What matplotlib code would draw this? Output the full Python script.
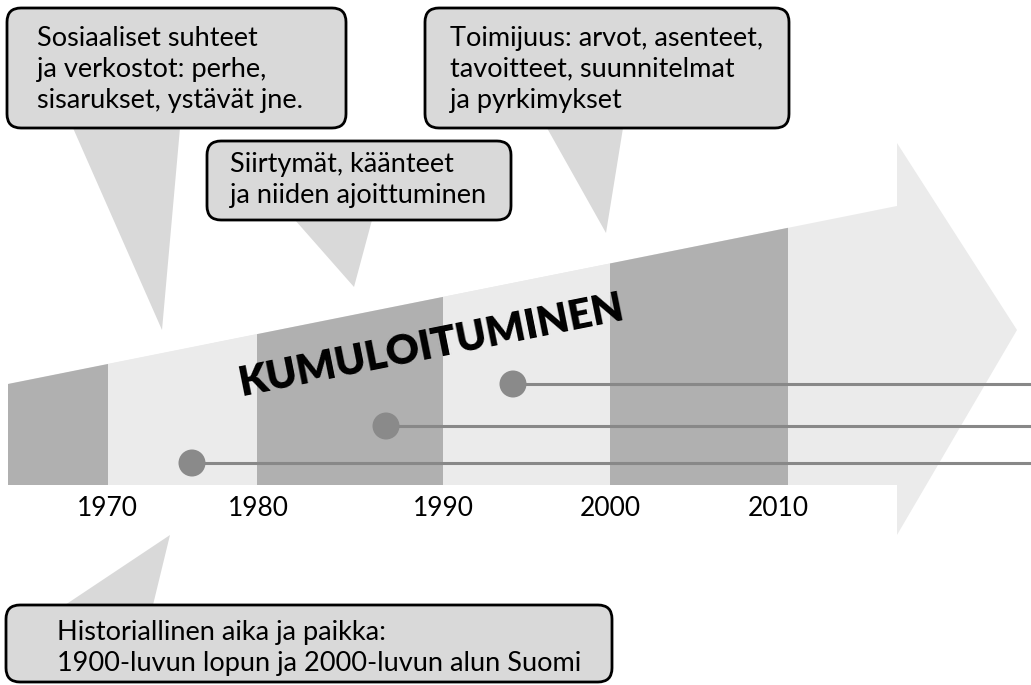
import matplotlib
matplotlib.use("Agg")
import matplotlib.pyplot as plt
from matplotlib.patches import Polygon, FancyBboxPatch, Circle
import math

plt.rcParams['font.family'] = ['Lato', 'DejaVu Sans']

# ---- data ----
years = ["1970", "1980", "1990", "2000", "2010"]
year_x = [107, 258, 443, 610, 778]
band_edges = [8, 108, 257, 443, 610, 788]
band_shades = ["dark", "light", "dark", "light", "dark"]
dot_x = [192, 386, 513]
dot_y = [463, 426, 384]

callout_texts = [
    "Sosiaaliset suhteet\nja verkostot: perhe,\nsisarukset, ystävät jne.",
    "Siirtymät, käänteet\nja niiden ajoittuminen",
    "Toimijuus: arvot, asenteet,\ntavoitteet, suunnitelmat\nja pyrkimykset",
    "Historiallinen aika ja paikka:\n1900-luvun lopun ja 2000-luvun alun Suomi",
]
# box: (x0, y0, x1, y1) ; tail: base points + tip
callout_boxes = [(7, 8, 346, 128), (207, 141, 511, 220), (425, 8, 789, 128), (6, 605, 612, 682)]
callout_tails = [
    [(73, 128), (180, 128), (162, 330)],
    [(295, 220), (372, 220), (354, 287)],
    [(547, 128), (623, 128), (606, 233)],
    [(50, 615), (153, 605), (170, 535)],
]
text_pos = [(37, 69), (230, 180), (450, 69), (57, 648)]

W, H = 1031, 685
fig = plt.figure(figsize=(W / 100, H / 100), dpi=100)
ax = fig.add_axes([0, 0, 1, 1])
ax.set_xlim(0, W)
ax.set_ylim(H, 0)
ax.axis("off")

ARROW = "#ebebeb"
DARK = "#b0b0b0"
LIGHT = "#ebebeb"
BOX = "#d9d9d9"

# arrow
x_left, y_top_left, y_bot = 8, 384, 485
x_head, y_top_head = 897, 206
head_top, head_bot, tip_x, tip_y = 143, 535, 1017, 330
arrow_pts = [(x_left, y_top_left), (x_head, y_top_head), (x_head, head_top),
             (tip_x, tip_y), (x_head, head_bot), (x_head, y_bot), (x_left, y_bot)]
ax.add_patch(Polygon(arrow_pts, closed=True, facecolor=ARROW, edgecolor="none", zorder=1))

slope = (y_top_head - y_top_left) / (x_head - x_left)
def top_at(x):
    return y_top_left + slope * (x - x_left)

for i, shade in enumerate(band_shades):
    a, b = band_edges[i], band_edges[i + 1]
    pts = [(a, top_at(a)), (b, top_at(b)), (b, y_bot), (a, y_bot)]
    ax.add_patch(Polygon(pts, closed=True, facecolor=DARK if shade == "dark" else LIGHT,
                         edgecolor="none", zorder=2))

# lines and dots
for x, y in zip(dot_x, dot_y):
    ax.plot([x, W], [y, y], color="#888888", lw=2.2, zorder=4, solid_capstyle="butt")
    ax.add_patch(Circle((x, y), 13.5, facecolor="#8a8a8a", edgecolor="none", zorder=5))

# years
for lab, x in zip(years, year_x):
    ax.text(x, 508, lab, ha="center", va="center", fontsize=19, color="black", zorder=6)

# KUMULOITUMINEN
ang = math.degrees(math.atan(-slope))
ax.text(431, 346, "KUMULOITUMINEN", ha="center", va="center", fontsize=29.5,
        fontweight="heavy", rotation=ang, rotation_mode="anchor", color="black", zorder=6)

# callouts
for txt, (x0, y0, x1, y1), tail, (tx, ty) in zip(callout_texts, callout_boxes, callout_tails, text_pos):
    ax.add_patch(Polygon(tail, closed=True, facecolor=BOX, edgecolor="none", zorder=7))
    ax.add_patch(FancyBboxPatch((x0, y0), x1 - x0, y1 - y0,
                                boxstyle="round,pad=0,rounding_size=14",
                                facecolor=BOX, edgecolor="black", lw=2, zorder=8))
    ax.text(tx, ty, txt, ha="left", va="center", fontsize=19.5, linespacing=1.3,
            color="black", zorder=9)

fig.savefig("out.png", dpi=100)
